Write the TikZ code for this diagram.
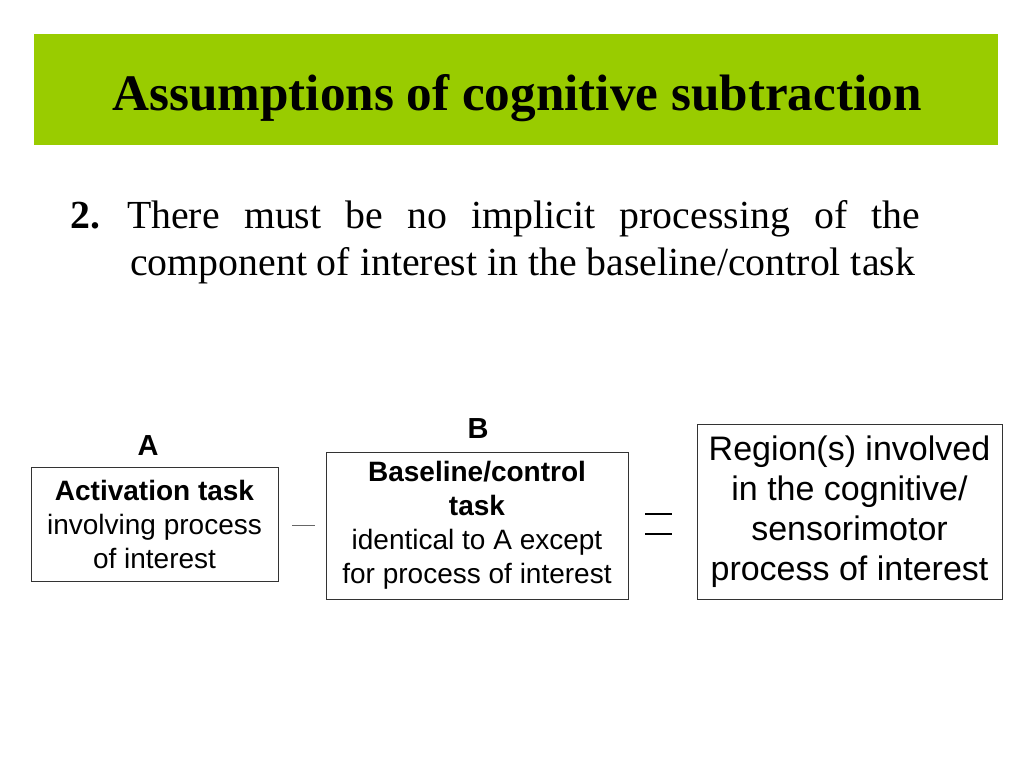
\documentclass[tikz,border=0pt]{standalone}
\usepackage{fontspec}
\setmainfont{Liberation Serif}
\newfontfamily\arialf{Liberation Sans}
\definecolor{banner}{HTML}{99CC00}
\definecolor{boxline}{HTML}{333333}
\tikzset{
  taskbox/.style={draw=boxline, line width=1pt, inner sep=0pt, align=center, font=\arialf\fontsize{28}{34}\selectfont},
  letterlabel/.style={inner sep=0pt, anchor=base, font=\arialf\bfseries\fontsize{29}{34}\selectfont},
}
\begin{document}
\begin{tikzpicture}[x=1pt,y=-1pt]
\useasboundingbox[fill=white] (0,0) rectangle (1024,768);
% banner
\fill[banner] (34,34) rectangle (998,145);
\node[anchor=base, inner sep=0pt, font=\bfseries\fontsize{51.2}{61}\selectfont] (title) at (517,110) {Assumptions of cognitive subtraction};
% body text
\node[anchor=base west, inner sep=0pt, font=\fontsize{39.8}{47}\selectfont] (body) at (70,228)
 {\begin{minipage}[t]{850pt}\hangindent=60pt\hangafter=1\noindent\textbf{2.}\hspace{27pt}There must be no implicit processing of the\linebreak component of interest in the baseline/control task\end{minipage}};
% boxes
\node[taskbox, minimum width=247pt, minimum height=114pt] (boxA) at (154.5,524)
 {\textbf{Activation task}\\involving process\\of interest};
\node[taskbox, minimum width=302pt, minimum height=147pt] (boxB) at (477,525.5)
 {\textbf{Baseline/control}\\\textbf{task}\\identical to A except\\for process of interest};
\node[taskbox, minimum width=305pt, minimum height=175pt, font=\arialf\fontsize{34}{40}\selectfont] (boxC) at (849.5,511.5)
 {Region(s) involved\\in the cognitive/\\sensorimotor\\process of interest};
% labels
\node[letterlabel] (labA) at (148,455) {A};
\node[letterlabel] (labB) at (478,438) {B};
% operators
\coordinate (mL) at (292,525);
\coordinate (mR) at (315,525);
\draw[line width=1pt, black!60] (mL) -- (mR);
\coordinate (e1L) at (645,514);
\coordinate (e1R) at (672,514);
\coordinate (e2L) at (645,534);
\coordinate (e2R) at (672,534);
\draw[line width=2.5pt] (e1L) -- (e1R);
\draw[line width=2.5pt] (e2L) -- (e2R);
\end{tikzpicture}
\end{document}
